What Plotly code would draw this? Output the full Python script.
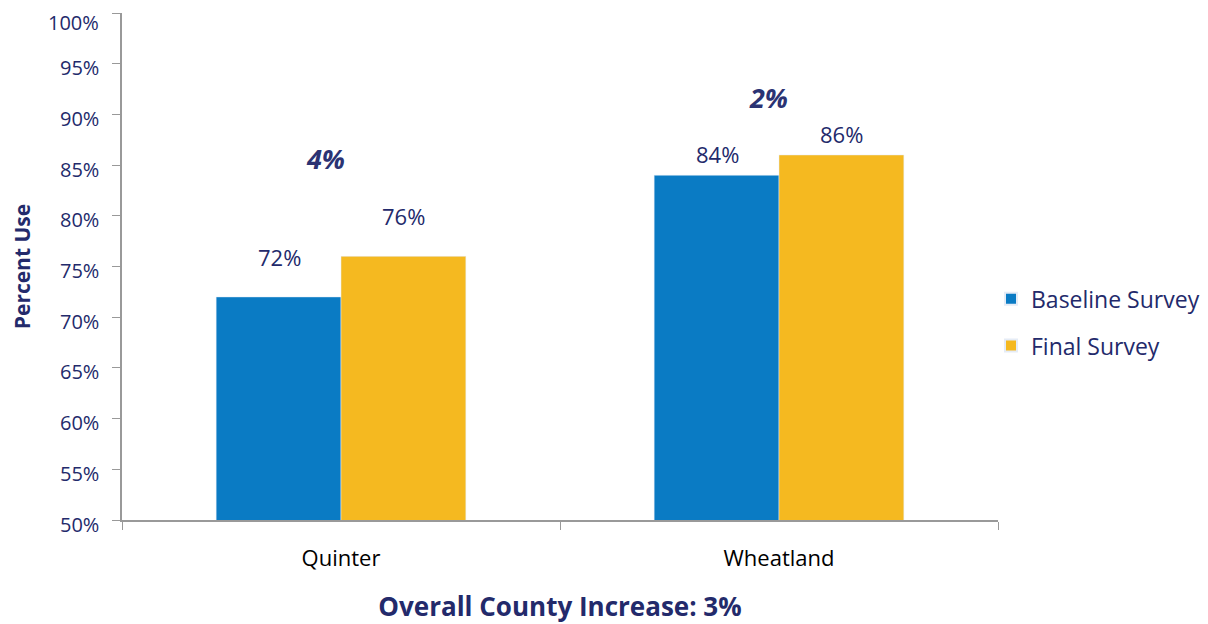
import plotly.graph_objects as go

categories = ["Quinter", "Wheatland"]
baseline = [72, 84]
final = [76, 86]
increase_labels = ["4%", "2%"]
increase_y = [85.7, 91.7]
tick_vals = [50, 55, 60, 65, 70, 75, 80, 85, 90, 95, 100]
tick_text = [f"{v}%" for v in tick_vals]

# style: vertical offsets (px) of value labels per category
label_shift = [40, 21]

navy = "#232A6B"
font_family = "'Open Sans', sans-serif"

fig = go.Figure()
fig.add_trace(go.Bar(name="Baseline Survey", x=categories, y=baseline,
                     marker_color="#0A7BC4", legendgroup="a"))
fig.add_trace(go.Bar(name="Final Survey", x=categories, y=final,
                     marker_color="#F5B920", legendgroup="b"))

for i, c in enumerate(categories):
    for vals, xs in ((baseline, -62), (final, 62)):
        fig.add_annotation(x=c, y=vals[i], text=f"{vals[i]}%", showarrow=False,
                           xshift=xs, yshift=label_shift[i],
                           font=dict(size=22, color=navy, family=font_family))

for c, lbl, yy, xs in zip(categories, increase_labels, increase_y, [-16, -11]):
    fig.add_annotation(x=c, y=yy, text=f"<b><i>{lbl}</i></b>", showarrow=False,
                       xshift=xs, font=dict(size=27, color="#2B3373", family=font_family))

# y tick labels drawn as annotations (slightly below their ticks, as in the reference)
for v, t in zip(tick_vals, tick_text):
    top = v == max(tick_vals)
    fig.add_annotation(xref="paper", x=0, y=v, text=t, showarrow=False, borderpad=0,
                       xanchor="right", yanchor="top" if top else "middle",
                       xshift=-22, yshift=5 if top else -4,
                       font=dict(size=20, color=navy, family=font_family))

fig.update_layout(
    width=1208, height=624,
    margin=dict(l=114, r=218, t=5, b=112, autoexpand=False),
    paper_bgcolor="white", plot_bgcolor="white",
    barmode="group", bargap=0.43, bargroupgap=0,
    font=dict(family=font_family, color=navy, size=20),
    showlegend=True,
    legend=dict(x=0.992, y=0.39, xanchor="left", yanchor="middle", xref="paper",
                font=dict(size=23, color=navy), itemsizing="constant",
                tracegroupgap=14, bgcolor="rgba(0,0,0,0)"),
    xaxis=dict(showline=True, linecolor="#999999", linewidth=1.5, automargin=False,
               ticks="outside", tickson="boundaries", ticklen=8, tickcolor="#999999",
               tickfont=dict(size=22, color="black"), ticklabelstandoff=18,
               title=dict(text="<b>Overall County Increase: 3%</b>",
                          font=dict(size=26, color=navy), standoff=27)),
    yaxis=dict(range=[50, 100], tickvals=tick_vals, showticklabels=False, automargin=False,
               showline=True, linecolor="#999999", linewidth=1.5,
               ticks="outside", ticklen=8, tickcolor="#999999",
               showgrid=False, zeroline=False,
               title=dict(text="<b>Percent Use</b>", font=dict(size=21, color=navy), standoff=84)),
)

fig.write_html("out.html")
